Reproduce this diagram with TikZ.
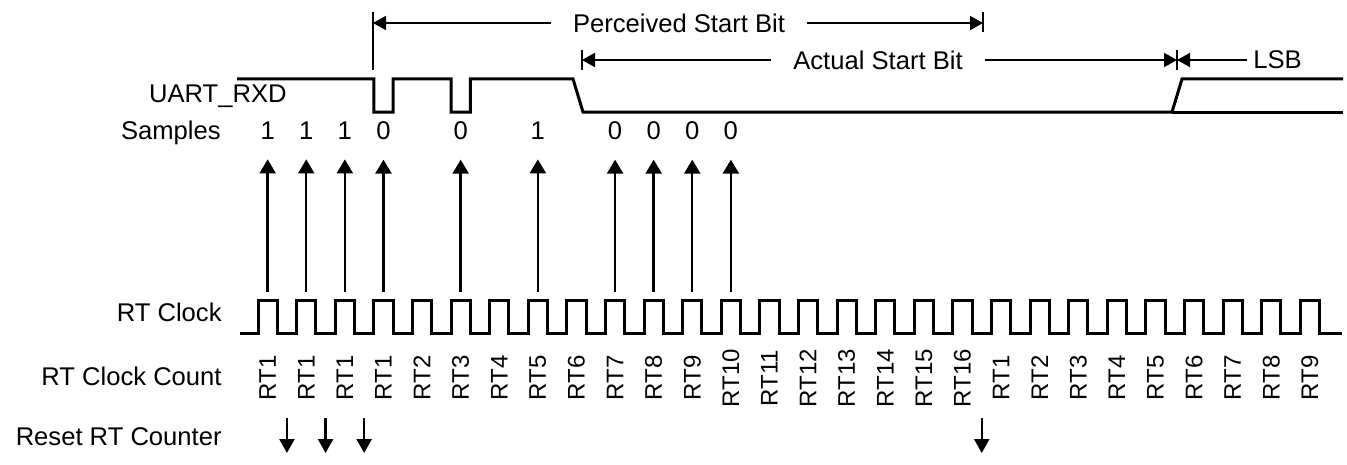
\documentclass[tikz,border=0pt]{standalone}
\usepackage{fontspec}
\setmainfont{Liberation Sans}
\usetikzlibrary{arrows.meta}
\begin{document}
\begin{tikzpicture}[
    x=0.5pt, y=-0.5pt,
    lbl/.style={anchor=base east, inner sep=0pt, font=\fontsize{12.8}{15}\selectfont},
    val/.style={anchor=base, inner sep=0pt, font=\fontsize{12.8}{15}\selectfont},
    cnt/.style={rotate=90, inner sep=0pt, font=\fontsize{12}{14}\selectfont},
    dimlbl/.style={inner xsep=11pt, inner ysep=0pt, font=\fontsize{12.8}{15}\selectfont},
    sig/.style={line width=1.5pt, line join=miter},
    dim/.style={line width=1pt, -{Triangle[length=6.5pt, width=7pt]}},
    tick/.style={line width=1pt},
    up/.style={line width=1.2pt, -{Triangle[length=7pt, width=8pt]}, shorten >=9.5pt},
    down/.style={line width=1.2pt, -{Triangle[length=7pt, width=7.5pt]}}
]
\useasboundingbox (0,0) rectangle (1347,465);

\node[lbl] (rxd) at (287,103) {UART\_RXD};
\node[lbl] (smp) at (221,140) {Samples};
\node[lbl] (clk) at (222,321) {RT Clock};
\node[lbl] (cnt) at (222,385) {RT Clock Count};
\node[lbl] (rst) at (222,445) {Reset RT Counter};

% UART_RXD
\draw[sig] (237,79) -- (373.8,79) -- (373.8,112) -- (393.1,112) -- (393.1,79) -- (451,79) -- (451,112) -- (470.3,112) -- (470.3,79) -- (573,79) -- (583,112) -- (1172,112) -- (1182,79) -- (1343,79);
\draw[sig] (1172,112) -- (1343,112);

% RT clock
\draw[sig] (240,333) foreach \k in {0,...,27} { -- ({258+38.6*\k},333) -- ++(0,-33) -- ++(19.3,0) -- ++(0,33) } -- (1342,333);

\foreach \n [count=\k from 0] in {1,1,1,1,2,3,4,5,6,7,8,9,10,11,12,13,14,15,16,1,2,3,4,5,6,7,8,9}
  \node[cnt] (rt\k) at ({267.65+38.6*\k},378) {RT\n};

% samples
\foreach \k/\v in {0/1,1/1,2/1,3/0,5/0,7/1,9/0,10/0,11/0,12/0} {
  \node[val] (s\k) at ({267.65+38.6*\k},140) {\v};
  \coordinate (p\k) at ({267.65+38.6*\k},292);
  \draw[up] (p\k) -- (s\k);
}

% counter resets
\foreach \k in {0,1,2,18} {
  \coordinate (ra\k) at ({286.95+38.6*\k},418);
  \coordinate (rb\k) at ({286.95+38.6*\k},453);
  \draw[down] (ra\k) -- (rb\k);
}

% bit spans
\coordinate (psL) at (373,23);
\coordinate (psR) at (983,23);
\node[dimlbl] (ps) at (679,23) {Perceived Start Bit};
\draw[dim] (ps) -- (psL);
\draw[dim] (ps) -- (psR);
\draw[tick] (373,12) -- (373,70);
\draw[tick] (983,12) -- (983,32);

\coordinate (asL) at (582,60);
\coordinate (asR) at (1177,60);
\node[dimlbl] (as) at (878,60) {Actual Start Bit};
\draw[dim] (as) -- (asL);
\draw[dim] (as) -- (asR);
\draw[tick] (582,50) -- (582,70);
\draw[tick] (1177,50) -- (1177,70);

\node[anchor=west, inner xsep=3pt, inner ysep=0pt, font=\fontsize{12.8}{15}\selectfont] (lsb) at (1247,60) {LSB};
\draw[dim] (lsb) -- (asR);
\end{tikzpicture}
\end{document}
